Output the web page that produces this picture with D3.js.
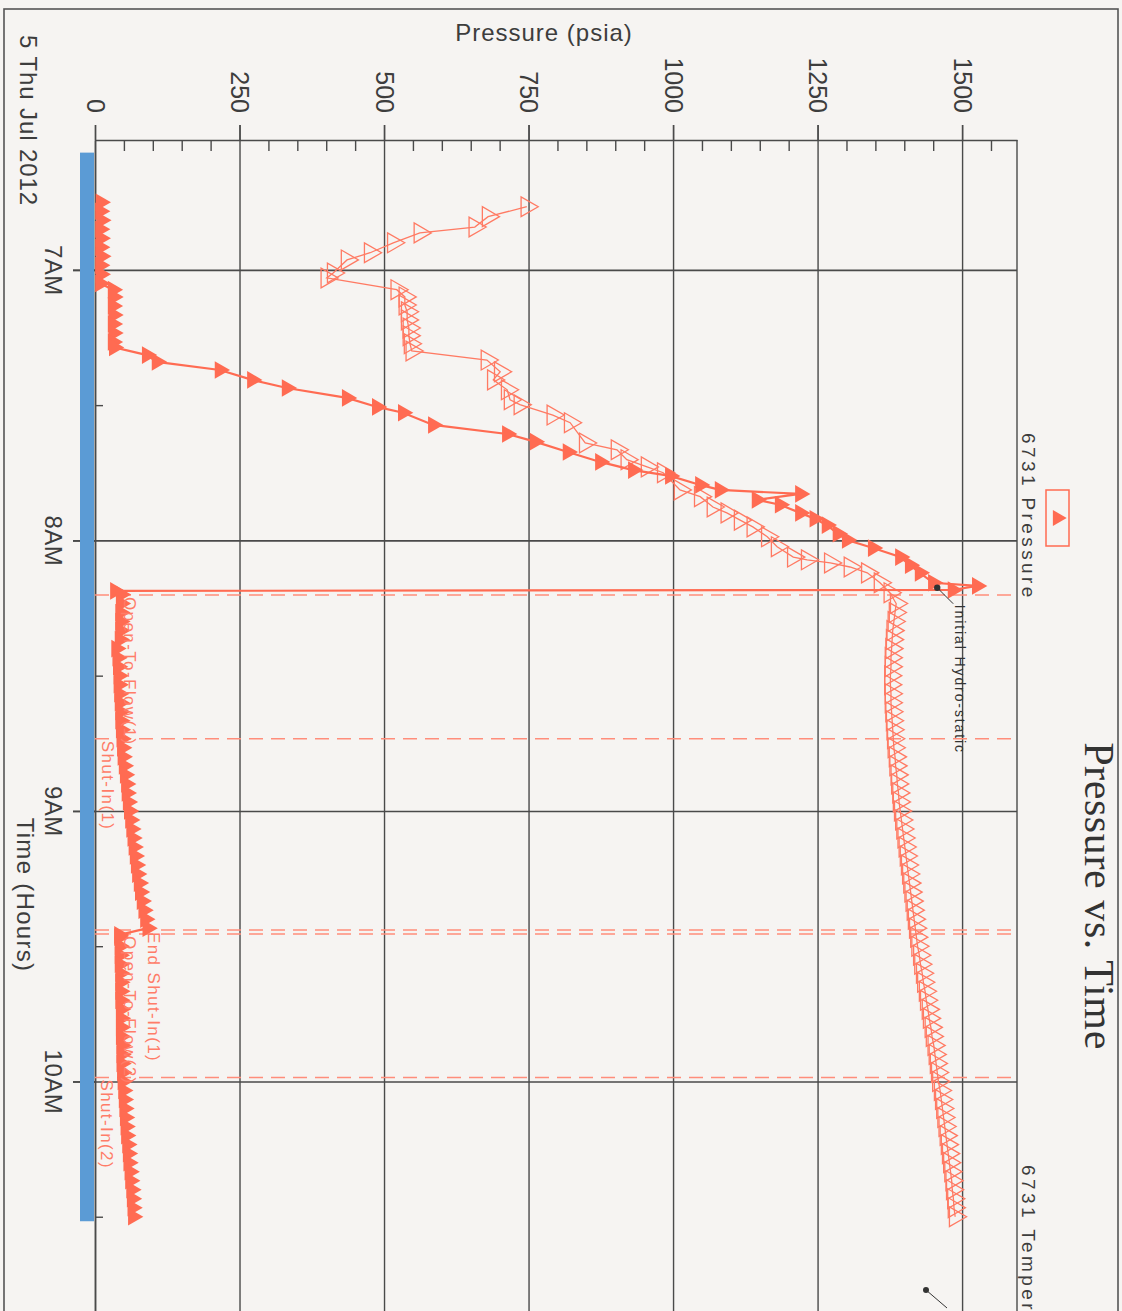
<!DOCTYPE html>
<html>
<head>
<meta charset="utf-8">
<script src="https://cdn.jsdelivr.net/npm/d3@7"></script>
<style>
  html, body { margin: 0; padding: 0; background: #f6f4f2; }
  svg { display: block; font-family: "Liberation Sans", Arial, sans-serif; }
</style>
</head>
<body>
<svg id="chart" width="1122" height="1311"></svg>
<script>
/* global d3 */

// pressure axis (psia), runs across the top of the (rotated) page
var pressureTicks = [0, 250, 500, 750, 1000, 1250, 1500]
var pressureMinor = [50, 100, 150, 200, 300, 350, 400, 450, 550, 600, 650, 700, 800, 850, 900, 950,
  1050, 1100, 1150, 1200, 1300, 1350, 1400, 1450, 1550]

// time axis, runs down the page
var hourTicks = ['7:00', '8:00', '9:00', '10:00']
var hourLabels = ['7AM', '8AM', '9AM', '10AM']
var halfHourTicks = ['7:30', '8:30', '9:30', '10:30']

// gauge recording span (blue bar)
var gaugeSpan = ['6:34', '10:31']

// 6731 Pressure - run in hole  [time, psia]
var runInPressure = [
  ['6:45', 10], ['6:47', 9], ['6:49', 11], ['6:51', 9], ['6:53', 10], ['6:55', 9], ['6:57', 11], ['6:59', 9],
  ['7:01', 10], ['7:03', 9],
  ['7:04:24', 31], ['7:06', 32], ['7:08', 31], ['7:10', 32], ['7:12', 31], ['7:14', 32], ['7:16', 31], ['7:17:12', 33],
  ['7:18:54', 90], ['7:20:24', 107], ['7:22:12', 216], ['7:24:24', 272], ['7:26:12', 332], ['7:28:24', 436],
  ['7:30:24', 488], ['7:31:42', 533], ['7:34:24', 585], ['7:36:24', 713], ['7:38:06', 761], ['7:40:24', 818],
  ['7:42:36', 874], ['7:44:24', 931], ['7:45:42', 995], ['7:47:42', 1047], ['7:48:48', 1081], ['7:49:42', 1220],
  ['7:51:00', 1145], ['7:52:06', 1185], ['7:53:54', 1220], ['7:55:12', 1245], ['7:56:36', 1266], ['7:58:30', 1285],
  ['7:59:54', 1301], ['8:01:42', 1346], ['8:03:42', 1393], ['8:05:30', 1410], ['8:07:12', 1427], ['8:09:24', 1450],
  ['8:10:06', 1526], ['8:11:00', 1484]
]

// 6731 Pressure - first flow and shut-in
var flow1Pressure = [
  ['8:11:12', 35], ['8:12', 45], ['8:14', 45], ['8:16', 44], ['8:18', 44], ['8:20', 44], ['8:22', 43], ['8:24', 37],
  ['8:26', 39], ['8:28', 40], ['8:30', 41], ['8:32', 41], ['8:34', 42], ['8:36', 43], ['8:38', 44], ['8:40', 44],
  ['8:42', 45], ['8:44', 46], ['8:46', 47], ['8:48', 48], ['8:50', 50], ['8:52', 52], ['8:54', 54], ['8:56', 55],
  ['8:58', 57], ['9:00', 59], ['9:02', 61], ['9:04', 63], ['9:06', 65], ['9:08', 67], ['9:10', 69], ['9:12', 71],
  ['9:14', 73], ['9:16', 76], ['9:18', 78], ['9:20', 81], ['9:22', 84], ['9:24', 87], ['9:26', 91]
]

// 6731 Pressure - second flow and shut-in
var flow2Pressure = [
  ['9:27:30', 42], ['9:28', 42], ['9:30', 43], ['9:32', 43], ['9:34', 43], ['9:36', 44], ['9:38', 44], ['9:40', 44],
  ['9:42', 44], ['9:44', 45], ['9:46', 45], ['9:48', 45], ['9:50', 45], ['9:52', 46], ['9:54', 46], ['9:56', 46],
  ['9:58', 47], ['10:00', 48], ['10:02', 49], ['10:04', 50], ['10:06', 51], ['10:08', 52], ['10:10', 53],
  ['10:12', 54], ['10:14', 56], ['10:16', 57], ['10:18', 58], ['10:20', 60], ['10:22', 61], ['10:24', 63],
  ['10:26', 64], ['10:28', 65], ['10:30', 66]
]

// 6731 Temperature (hollow markers), read on the plotted scale
var runInTemp = [
  ['6:46:00', 747], ['6:48:12', 680], ['6:50:30', 657], ['6:51:48', 562], ['6:54:00', 516], ['6:56:12', 476],
  ['6:57:48', 436], ['7:00:42', 412], ['7:01:48', 401], ['7:04:24', 522], ['7:06:00', 536], ['7:07:48', 536],
  ['7:09:18', 540], ['7:11:06', 540], ['7:12:54', 543], ['7:14:36', 543], ['7:16:24', 545], ['7:18:00', 548],
  ['7:20:00', 678], ['7:22:36', 701], ['7:24:24', 689], ['7:26:36', 713], ['7:28:48', 718], ['7:29:54', 735],
  ['7:32:12', 792], ['7:33:54', 822], ['7:38:24', 848], ['7:39:54', 903], ['7:42:06', 920], ['7:43:42', 955],
  ['7:45:00', 983], ['7:48:48', 1012], ['7:50:18', 1047], ['7:52:36', 1069], ['7:53:54', 1093], ['7:55:30', 1116],
  ['7:57:00', 1138], ['7:59:12', 1163], ['8:01:24', 1180], ['8:03:42', 1208], ['8:04:18', 1232], ['8:05:00', 1272],
  ['8:05:54', 1306], ['8:07:12', 1336], ['8:09:24', 1358], ['8:11:36', 1375]
]

var stationTemp = [
  ['8:14', 1386], ['8:16', 1384], ['8:18', 1382], ['8:20', 1380], ['8:22', 1379], ['8:24', 1378], ['8:26', 1377],
  ['8:28', 1377], ['8:30', 1376], ['8:32', 1376], ['8:34', 1377], ['8:36', 1377], ['8:38', 1378], ['8:40', 1379],
  ['8:42', 1380], ['8:44', 1381], ['8:46', 1382], ['8:48', 1384], ['8:50', 1385], ['8:52', 1387], ['8:54', 1388],
  ['8:56', 1390], ['8:58', 1391], ['9:00', 1393], ['9:02', 1395], ['9:04', 1397], ['9:06', 1399], ['9:08', 1401],
  ['9:10', 1403], ['9:12', 1405], ['9:14', 1407], ['9:16', 1409], ['9:18', 1411], ['9:20', 1413], ['9:22', 1415],
  ['9:24', 1417], ['9:26', 1419], ['9:28', 1421], ['9:30', 1423], ['9:32', 1426], ['9:34', 1428], ['9:36', 1431],
  ['9:38', 1433], ['9:40', 1436], ['9:42', 1438], ['9:44', 1441], ['9:46', 1443], ['9:48', 1446], ['9:50', 1448],
  ['9:52', 1451], ['9:54', 1453], ['9:56', 1455], ['9:58', 1457], ['10:00', 1459], ['10:02', 1462], ['10:04', 1464],
  ['10:06', 1466], ['10:08', 1468], ['10:10', 1470], ['10:12', 1472], ['10:14', 1474], ['10:16', 1476],
  ['10:18', 1478], ['10:20', 1480], ['10:22', 1482], ['10:24', 1483], ['10:26', 1485], ['10:28', 1486], ['10:30', 1488]
]

// test events
var eventTimes = ['8:12:06', '8:44:00', '9:26:24', '9:27:18', '9:59:06']
var eventLabels = ['Open-To-Flow(1)', 'Shut-In(1)', 'End Shut-In(1)', 'Open-To-Flow(2)', 'Shut-In(2)']
var hydroPoint = ['8:10:30', 1457]

var parse = function (s) {
  var p = s.split(':')
  return new Date(2012, 6, 5, +p[0], +p[1], +(p[2] || 0))
}

var red = '#ff6b52'
var ink = '#3d3d3d'
var svg = d3.select('#chart')

var x = d3.scaleLinear().domain([0, 1595]).range([95, 1017])
var y = d3.scaleTime().domain([parse('6:31:12'), parse('11:00')]).range([140, 1352])
var plotL = x.range()[0]
var plotR = x.range()[1]
var plotT = y.range()[0]
var plotB = y.range()[1]

// page frame
svg.append('rect')
  .attr('x', 4).attr('y', 9).attr('width', 1114).attr('height', 1400)
  .attr('fill', 'none').attr('stroke', '#555').attr('stroke-width', 1.6)

// grid
svg.append('g')
  .attr('transform', 'translate(0,' + (plotT - 15) + ')')
  .call(d3.axisBottom(x).tickValues(pressureTicks).tickSize(plotB - plotT + 15).tickFormat(''))
  .call(function (g) { g.select('.domain').remove() })
  .selectAll('line').attr('stroke', '#4a4a4a').attr('stroke-width', 1.4)

svg.append('g')
  .attr('transform', 'translate(' + (plotL - 22) + ',0)')
  .call(d3.axisRight(y).tickValues(hourTicks.map(parse)).tickSize(plotR - plotL + 22).tickFormat(''))
  .call(function (g) { g.select('.domain').remove() })
  .selectAll('line').attr('stroke', '#4a4a4a').attr('stroke-width', 1.6)

// right border of plot
svg.append('line')
  .attr('x1', plotR).attr('x2', plotR).attr('y1', plotT).attr('y2', plotB)
  .attr('stroke', '#4a4a4a').attr('stroke-width', 1.4)

// pressure axis
var pAxis = svg.append('g')
  .attr('transform', 'translate(0,' + plotT + ')')
  .call(d3.axisTop(x).tickValues(pressureTicks).tickSize(15).tickSizeOuter(0).tickFormat(d3.format('d')))
pAxis.select('.domain').attr('stroke', '#4a4a4a').attr('stroke-width', 1.6)
pAxis.selectAll('line').attr('stroke', '#4a4a4a').attr('stroke-width', 1.4)
pAxis.selectAll('text')
  .attr('y', null).attr('dy', '0.35em')
  .attr('text-anchor', 'end')
  .attr('transform', 'translate(0,-27) rotate(90)')
  .attr('font-size', 25).attr('fill', ink)
  .attr('font-family', '"Liberation Sans", Arial, sans-serif')

svg.append('g')
  .attr('transform', 'translate(0,' + plotT + ')')
  .call(d3.axisBottom(x).tickValues(pressureMinor).tickSize(11).tickFormat(''))
  .call(function (g) { g.select('.domain').remove() })
  .selectAll('line').attr('stroke', '#4a4a4a').attr('stroke-width', 1.4)

// time axis
var tAxis = svg.append('g')
  .attr('transform', 'translate(' + plotL + ',0)')
  .call(d3.axisLeft(y).tickValues(hourTicks.map(parse)).tickSize(22).tickSizeOuter(0)
    .tickFormat(function (d, i) { return hourLabels[i] }))
tAxis.select('.domain').attr('stroke', '#4a4a4a').attr('stroke-width', 1.6)
tAxis.selectAll('line').attr('stroke', '#4a4a4a').attr('stroke-width', 1.6)
tAxis.selectAll('text')
  .attr('x', null).attr('dy', null)
  .attr('text-anchor', 'middle')
  .attr('transform', 'translate(-50,0) rotate(90)')
  .attr('font-size', 24).attr('fill', ink)
  .attr('letter-spacing', 0.5)
  .attr('font-family', '"Liberation Sans", Arial, sans-serif')

svg.append('g')
  .attr('transform', 'translate(' + plotL + ',0)')
  .call(d3.axisRight(y).tickValues(halfHourTicks.map(parse)).tickSize(8).tickFormat(''))
  .call(function (g) { g.select('.domain').remove() })
  .selectAll('line').attr('stroke', '#4a4a4a').attr('stroke-width', 1.4)

// gauge span bar
svg.append('rect')
  .attr('x', plotL - 15).attr('width', 14)
  .attr('y', y(parse(gaugeSpan[0])))
  .attr('height', y(parse(gaugeSpan[1])) - y(parse(gaugeSpan[0])))
  .attr('fill', '#5b9bd5')

// event lines
svg.append('g').selectAll('line')
  .data(eventTimes)
  .join('line')
  .attr('x1', plotL).attr('x2', plotR)
  .attr('y1', function (d) { return y(parse(d)) })
  .attr('y2', function (d) { return y(parse(d)) })
  .attr('stroke', '#ff8d7b').attr('stroke-width', 1.5)
  .attr('stroke-dasharray', '14,8')

var line = d3.line()
  .x(function (d) { return x(d[1]) })
  .y(function (d) { return y(parse(d[0])) })

// temperature, hollow triangles
var tempData = runInTemp.concat(stationTemp)
svg.append('path')
  .datum(tempData)
  .attr('d', line)
  .attr('fill', 'none').attr('stroke', '#ff7a63').attr('stroke-width', 1.3)

var hollow = d3.symbol().type(d3.symbolTriangle).size(170)
svg.append('g').selectAll('path')
  .data(tempData)
  .join('path')
  .attr('d', hollow)
  .attr('transform', function (d) { return 'translate(' + x(d[1]) + ',' + y(parse(d[0])) + ') rotate(90)' })
  .attr('fill', 'none').attr('stroke', '#ff7a63').attr('stroke-width', 1.3)

// pressure, filled triangles
var pressureData = runInPressure.concat(flow1Pressure, flow2Pressure)
svg.append('path')
  .datum(pressureData)
  .attr('d', line)
  .attr('fill', 'none').attr('stroke', red).attr('stroke-width', 2.2)

var filled = d3.symbol().type(d3.symbolTriangle).size(135)
svg.append('g').selectAll('path')
  .data(pressureData)
  .join('path')
  .attr('d', filled)
  .attr('transform', function (d) { return 'translate(' + x(d[1]) + ',' + y(parse(d[0])) + ') rotate(90)' })
  .attr('fill', red)

// rotated text helper
function vtext (px, py, str, size, color, anchor, spacing, family) {
  return svg.append('text')
    .attr('transform', 'translate(' + px + ',' + py + ') rotate(90)')
    .attr('text-anchor', anchor || 'start')
    .attr('font-size', size)
    .attr('letter-spacing', spacing || 0)
    .attr('fill', color)
    .attr('font-family', family || '"Liberation Sans", Arial, sans-serif')
    .text(str)
}

// event labels
var labelX = [124, 102, 148, 124, 101]
eventLabels.forEach(function (lbl, i) {
  vtext(labelX[i], y(parse(eventTimes[i])) + 2, lbl, 17, '#ff7c68', 'start', 1.4)
})

// initial hydrostatic annotation
var hx = x(hydroPoint[1])
var hy = y(parse(hydroPoint[0]))
svg.append('line')
  .attr('x1', hx).attr('y1', hy).attr('x2', hx + 16).attr('y2', hy + 16)
  .attr('stroke', '#333').attr('stroke-width', 1)
svg.append('circle').attr('cx', hx).attr('cy', hy).attr('r', 3.2).attr('fill', '#333')
vtext(hx + 18, hy + 17, 'Initial Hydro-static', 14, '#333', 'start', 1.9)

// annotation leader at the bottom edge
svg.append('line')
  .attr('x1', 926).attr('y1', 1290).attr('x2', 947).attr('y2', 1308)
  .attr('stroke', '#333').attr('stroke-width', 1)
svg.append('circle').attr('cx', 926).attr('cy', 1290).attr('r', 3).attr('fill', '#333')

// legend
vtext(plotR + 5, 433, '6731 Pressure', 19, ink, 'start', 3.4)
svg.append('rect')
  .attr('x', 1046).attr('y', 490).attr('width', 23).attr('height', 56)
  .attr('fill', 'none').attr('stroke', red).attr('stroke-width', 1.5)
svg.append('path')
  .attr('d', d3.symbol().type(d3.symbolTriangle).size(110)())
  .attr('transform', 'translate(1057.5,518) rotate(90)')
  .attr('fill', red)
vtext(plotR + 5, 1165, '6731 Temperature', 19, ink, 'start', 3.4)

// titles
vtext(1085, 896, 'Pressure vs. Time', 42, '#333', 'middle', 0.6, '"Liberation Serif", "Times New Roman", serif')
svg.append('text')
  .attr('x', 544).attr('y', 41)
  .attr('text-anchor', 'middle')
  .attr('font-size', 24).attr('fill', ink)
  .attr('letter-spacing', 1)
  .text('Pressure (psia)')
vtext(20, 35, '5 Thu Jul 2012', 24, ink, 'start', 0.9)
vtext(17, 895, 'Time (Hours)', 24, ink, 'middle', 1.3)
</script>
</body>
</html>
